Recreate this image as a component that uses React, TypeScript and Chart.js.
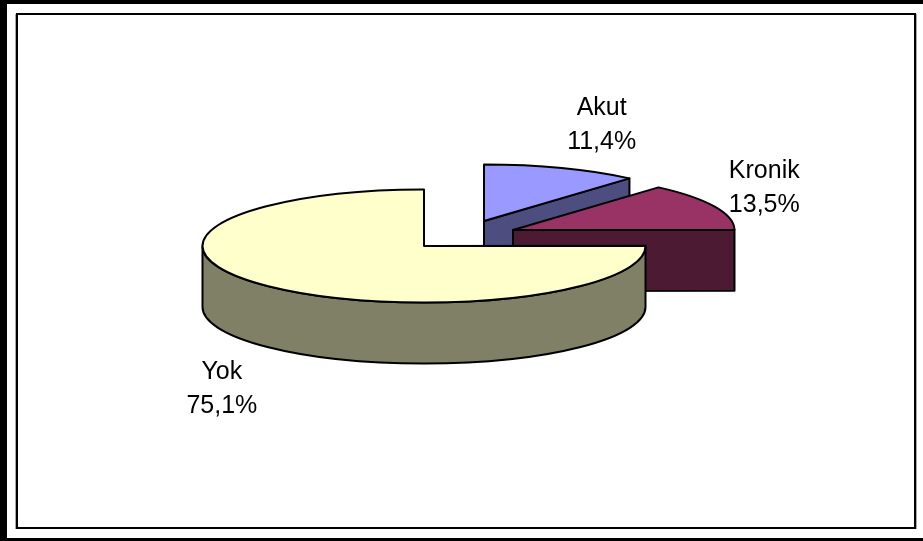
import { useEffect, useRef } from 'react';
import { Chart, registerables } from 'chart.js';

Chart.register(...registerables);

// ---- data ----
const CATEGORIES = ['Akut', 'Kronik', 'Yok'];
const VALUES = [11.4, 13.5, 75.1];

// ---- styles ----
const TOP_COLORS = ['#9999FF', '#993366', '#FFFFCC'];
const SIDE_COLORS = ['#4D4D80', '#4D1A33', '#808066'];
const EXPLODE_X = [60, 89, 0]; // screen px
const EXPLODE_Y = [-25, -16, 0];
const LABEL_DX = [40, 50, -46];
const LABEL_DY = [-53, -28, 93];
const LINE_STEP = 34;
const TILT = 56.5 / 221.5;
const DEPTH = 61;
const FONT = '25px "Liberation Sans", Arial, sans-serif';

function geo(el: any, cy: number) {
  return {
    x: el.x,
    y: cy + (el.y - cy) * TILT,
    rx: el.outerRadius,
    ry: el.outerRadius * TILT,
    s: el.startAngle,
    e: el.endAngle,
  };
}

const pie3d = {
  id: 'pie3d',
  beforeDraw(chart: any) {
    const ctx = chart.ctx;
    const W = chart.width;
    const H = chart.height;
    ctx.save();
    ctx.fillStyle = '#FFFFFF';
    ctx.fillRect(0, 0, W, H);
    ctx.fillStyle = '#000000';
    ctx.fillRect(0, 0, W, 4);
    ctx.fillRect(0, 0, 7, H);
    ctx.fillRect(0, H - 3, W, 3);
    ctx.fillStyle = '#A8A8A8';
    ctx.fillRect(15, 14, 1, 515);
    ctx.fillRect(916, 14, 1, 515);
    ctx.strokeStyle = '#000000';
    ctx.lineWidth = 2;
    ctx.strokeRect(17, 14, 898, 514);
    ctx.restore();
  },
  afterDatasetsUpdate(chart: any) {
    const meta = chart.getDatasetMeta(0);
    meta.data.forEach((el: any, i: number) => {
      el.x += EXPLODE_X[i] || 0;
      el.y += (EXPLODE_Y[i] || 0) / TILT;
    });
  },
  beforeDatasetsDraw(chart: any) {
    const ctx = chart.ctx;
    const ca = chart.chartArea;
    const cy = (ca.top + ca.bottom) / 2;
    const meta = chart.getDatasetMeta(0);
    ctx.save();
    ctx.lineWidth = 2;
    ctx.lineJoin = 'round';
    ctx.strokeStyle = '#000000';
    meta.data.forEach((el: any, i: number) => {
      const g = geo(el, cy);
      ctx.fillStyle = SIDE_COLORS[i];
      const face = (a: number) => {
        const px = g.x + g.rx * Math.cos(a);
        const py = g.y + g.ry * Math.sin(a);
        ctx.beginPath();
        ctx.moveTo(g.x, g.y);
        ctx.lineTo(px, py);
        ctx.lineTo(px, py + DEPTH);
        ctx.lineTo(g.x, g.y + DEPTH);
        ctx.closePath();
        ctx.fill();
        ctx.stroke();
      };
      if (Math.cos(g.s) < -0.01) face(g.s);
      if (Math.cos(g.e) > 0.01) face(g.e);
      for (let n = -1; n <= 1; n++) {
        const lo = Math.max(g.s, 2 * Math.PI * n);
        const hi = Math.min(g.e, 2 * Math.PI * n + Math.PI);
        if (hi - lo > 1e-3) {
          ctx.beginPath();
          ctx.ellipse(g.x, g.y, g.rx, g.ry, 0, lo, hi);
          ctx.ellipse(g.x, g.y + DEPTH, g.rx, g.ry, 0, hi, lo, true);
          ctx.closePath();
          ctx.fill();
          ctx.stroke();
        }
      }
    });
    ctx.restore();
    // squash the flat pie into an ellipse for the top faces
    ctx.save();
    ctx.translate(0, cy);
    ctx.scale(1, TILT);
    ctx.translate(0, -cy);
  },
  afterDatasetsDraw(chart: any) {
    const ctx = chart.ctx;
    ctx.restore();
    const ca = chart.chartArea;
    const cy = (ca.top + ca.bottom) / 2;
    const meta = chart.getDatasetMeta(0);
    const data = chart.data.datasets[0].data as number[];
    const total = data.reduce((a, b) => a + b, 0);
    ctx.save();
    ctx.lineWidth = 2;
    ctx.lineJoin = 'round';
    ctx.strokeStyle = '#000000';
    meta.data.forEach((el: any) => {
      const g = geo(el, cy);
      ctx.beginPath();
      ctx.moveTo(g.x, g.y);
      ctx.ellipse(g.x, g.y, g.rx, g.ry, 0, g.s, g.e);
      ctx.closePath();
      ctx.stroke();
    });
    ctx.fillStyle = '#000000';
    ctx.font = FONT;
    ctx.textAlign = 'center';
    ctx.textBaseline = 'alphabetic';
    meta.data.forEach((el: any, i: number) => {
      const g = geo(el, cy);
      const mid = (g.s + g.e) / 2;
      const ax = g.x + g.rx * Math.cos(mid) + LABEL_DX[i];
      const ay = g.y + g.ry * Math.sin(mid) + LABEL_DY[i];
      const pct = ((data[i] / total) * 100).toFixed(1).replace('.', ',') + '%';
      ctx.fillText(chart.data.labels[i], ax, ay);
      ctx.fillText(pct, ax, ay + LINE_STEP);
    });
    ctx.restore();
  },
};

export default function App() {
  const ref = useRef<HTMLCanvasElement>(null);
  useEffect(() => {
    document.body.style.margin = '0';
    const chart = new Chart(ref.current as HTMLCanvasElement, {
      type: 'pie',
      data: {
        labels: CATEGORIES,
        datasets: [
          {
            data: VALUES,
            backgroundColor: TOP_COLORS,
            borderWidth: 0,
            radius: 221.5,
            clip: false,
          } as any,
        ],
      },
      options: {
        animation: false,
        responsive: false,
        layout: { padding: { left: 0, right: 75, top: 0, bottom: 49 } },
        plugins: { legend: { display: false }, tooltip: { enabled: false } },
      },
      plugins: [pie3d as any],
    });
    return () => chart.destroy();
  }, []);
  return (
    <div style={{ position: 'fixed', left: 0, top: 0, width: 923, height: 541, background: '#FFFFFF' }}>
      <canvas ref={ref} width={923} height={541} style={{ display: 'block', width: 923, height: 541 }} />
    </div>
  );
}
